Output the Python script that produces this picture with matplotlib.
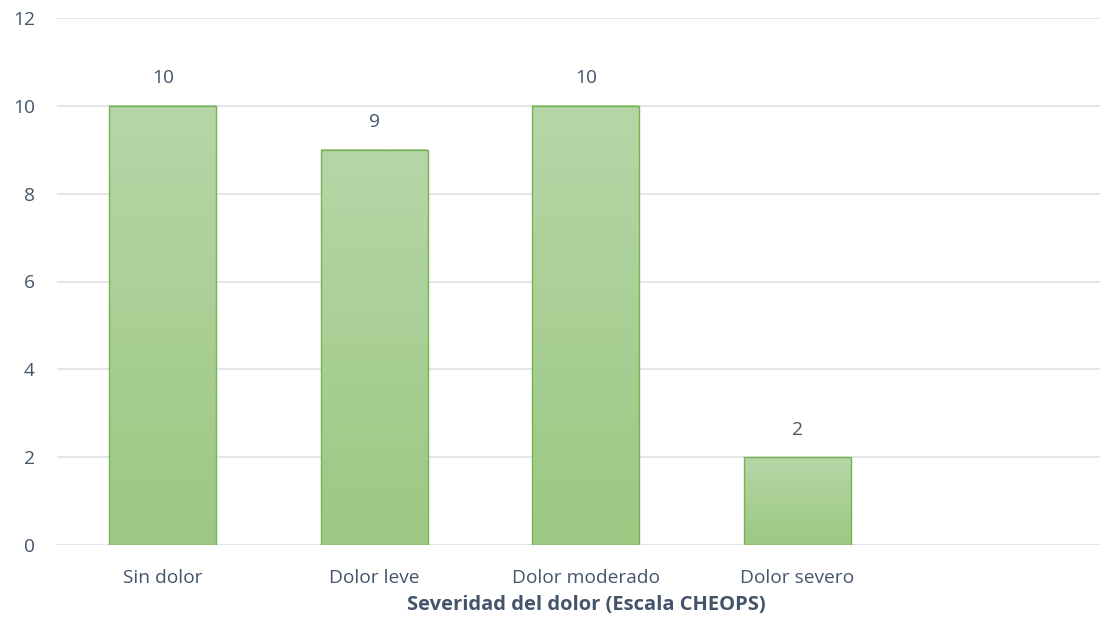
import matplotlib
matplotlib.use("Agg")
import matplotlib.pyplot as plt
import numpy as np
from matplotlib.colors import LinearSegmentedColormap

categories = ["Sin dolor", "Dolor leve", "Dolor moderado", "Dolor severo"]
values = [10, 9, 10, 2]
xlabel = "Severidad del dolor (Escala CHEOPS)"
yticks = [0, 2, 4, 6, 8, 10, 12]

plt.rcParams['font.family'] = ['Open Sans', 'DejaVu Sans']
txt = '#44546a'

fig = plt.figure(figsize=(11.07, 6.26), dpi=100)
ax = fig.add_axes([57/1107, 81/626, (1100-57)/1107, (545-18)/626])

cmap = LinearSegmentedColormap.from_list('g', ['#9cc883', '#b6d6a7'])
grad = np.linspace(0, 1, 256).reshape(-1, 1)
w = 0.505
x = np.arange(len(categories))
bars = ax.bar(x, values, width=w, color='none', edgecolor='#76b152', linewidth=1.0, zorder=3)
for b in bars:
    x0, y0 = b.get_x(), b.get_y()
    ax.imshow(grad, extent=[x0, x0 + b.get_width(), y0, y0 + b.get_height()],
              origin='lower', cmap=cmap, aspect='auto', zorder=2)
for xi, v in zip(x, values):
    ax.text(xi, v + 0.42, str(v), ha='center', va='bottom', fontsize=13.8, color=txt)

ax.set_xlim(-0.5, 4.43)
ax.set_ylim(0, 12)
ax.set_yticks(yticks)
ax.set_xticks(x)
ax.set_xticklabels(categories)
ax.tick_params(axis='both', length=0, labelsize=13.8, labelcolor=txt)
ax.tick_params(axis='x', pad=17.5)
ax.tick_params(axis='y', pad=16)
ax.grid(axis='y', color='#dde1e6', linewidth=1.2, zorder=0)
ax.set_axisbelow(True)
for s in ax.spines.values():
    s.set_visible(False)
ax.set_xlabel(xlabel, fontsize=14.5, fontweight='bold', color=txt, labelpad=6)
ax.xaxis.set_label_coords((586 - 57) / (1100 - 57), -0.095)

fig.savefig('out.png', dpi=100)
